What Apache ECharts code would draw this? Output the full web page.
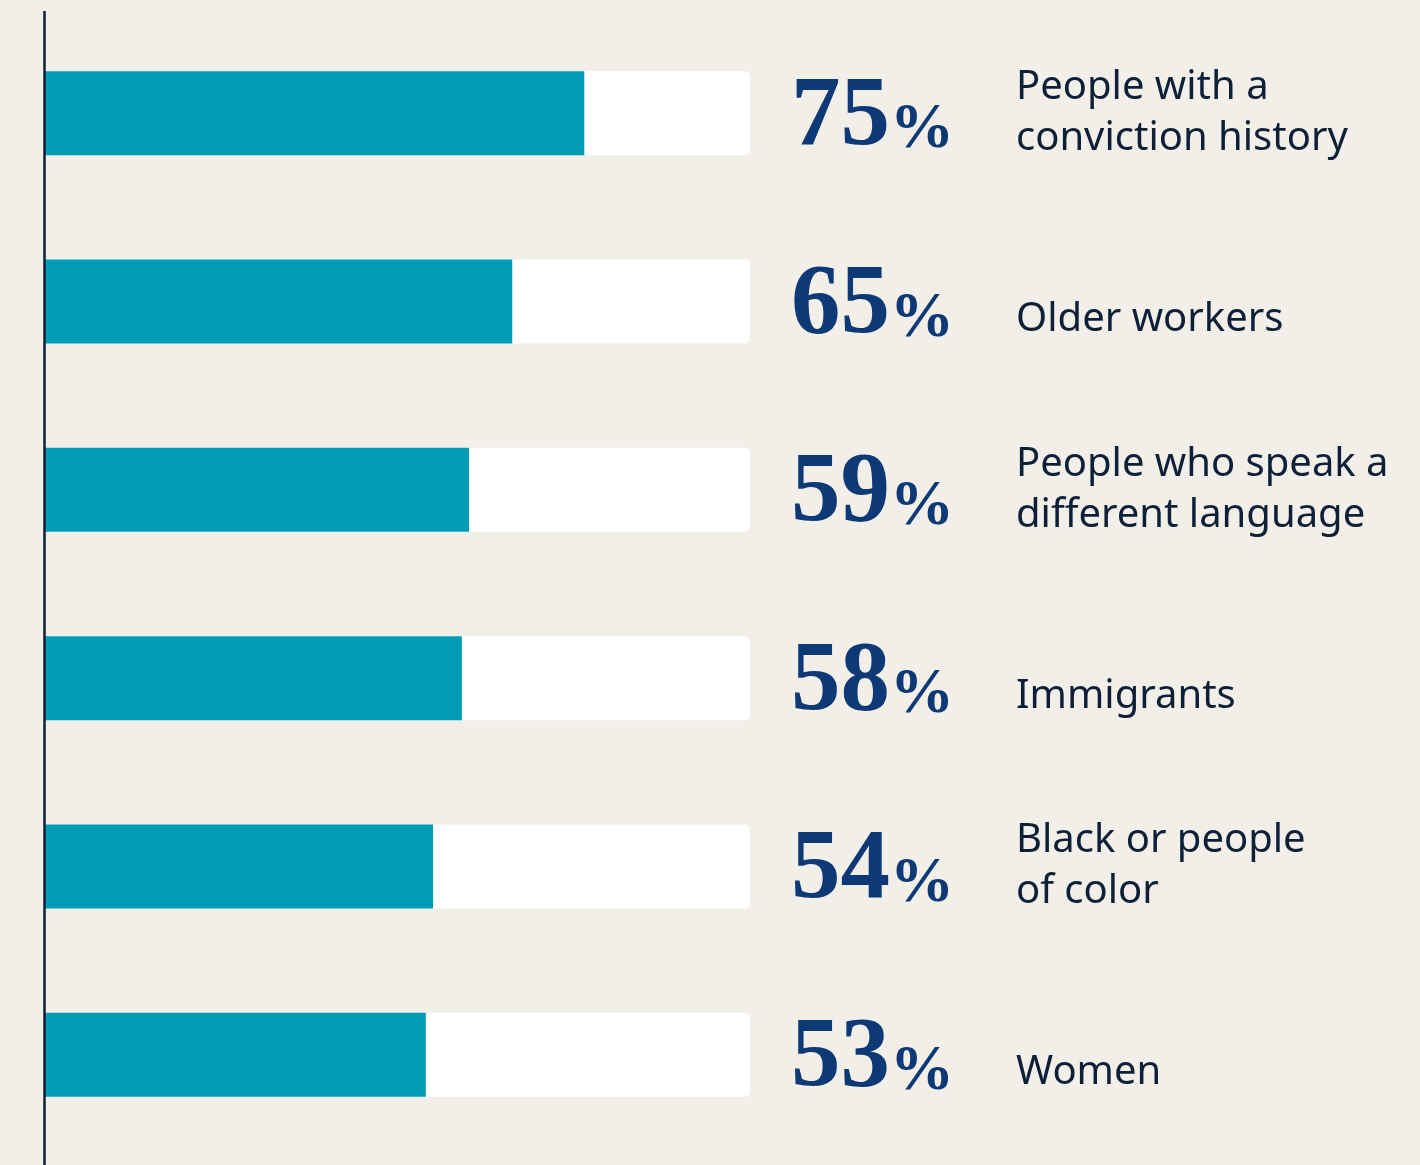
<!DOCTYPE html>
<html>
<head>
<meta charset="utf-8">
<script src="https://cdn.jsdelivr.net/npm/echarts@6/dist/echarts.min.js"></script>
<style>
html,body{margin:0;padding:0;background:#f2eee8;}
#chart{width:1420px;height:1165px;}
</style>
</head>
<body>
<div id="chart"></div>
<script>
const categories = [
  'People with a\nconviction history',
  'Older workers',
  'People who speak a\ndifferent language',
  'Immigrants',
  'Black or people\nof color',
  'Women'
];
const values = [75, 65, 59, 58, 54, 53];

const chart = echarts.init(document.getElementById('chart'));
chart.setOption({
  backgroundColor: '#f2eee8',
  animation: false,
  grid: { left: 44, right: 670, top: 19, bottom: 16 },
  xAxis: { type: 'value', min: 0, max: 98, show: false },
  yAxis: {
    type: 'category',
    data: categories,
    inverse: true,
    position: 'right',
    axisLine: { show: false },
    axisTick: { show: false },
    splitLine: { show: false },
    axisLabel: {
      margin: 266,
      align: 'left',
      formatter: function (v) {
        return v.indexOf('\n') >= 0 ? '{m|' + v.replace('\n', '}\n{m|') + '}' : '{s|' + v + '}';
      },
      rich: {
        m: { fontFamily: 'Noto Sans', fontSize: 40, color: '#0e2038', lineHeight: 51 },
        s: { fontFamily: 'Noto Sans', fontSize: 40, color: '#0e2038', lineHeight: 51, padding: [36, 0, 0, 0] }
      }
    }
  },
  graphic: [{
    type: 'line',
    shape: { x1: 44.5, y1: 11, x2: 44.5, y2: 1165 },
    style: { stroke: '#0e1e33', lineWidth: 2.5 },
    z: 100
  }],
  series: [{
    type: 'bar',
    data: values,
    barWidth: 84,
    itemStyle: { color: '#009cb5' },
    showBackground: true,
    backgroundStyle: { color: '#ffffff', borderRadius: [0, 5, 5, 0] },
    label: {
      show: true,
      position: [747, 47],
      align: 'left',
      verticalAlign: 'middle',
      formatter: function (p) { return '{n|' + values[p.dataIndex] + '}{p|%}'; },
      rich: {
        n: { fontFamily: 'Liberation Serif', fontWeight: 'bold', fontSize: 99, color: '#0d3a76', verticalAlign: 'bottom' },
        p: { fontFamily: 'Liberation Serif', fontWeight: 'bold', fontSize: 64, color: '#0d3a76', verticalAlign: 'bottom', padding: [0, 0, 5, 0] }
      }
    }
  }]
});
</script>
</body>
</html>
